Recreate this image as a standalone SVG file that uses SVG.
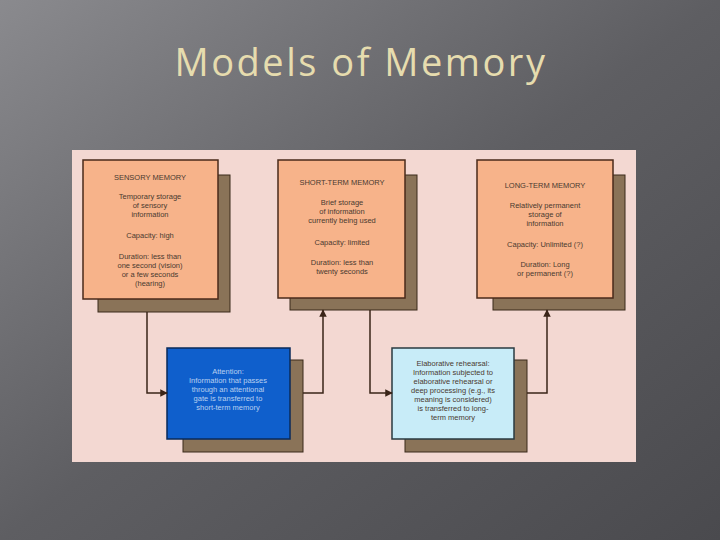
<svg xmlns="http://www.w3.org/2000/svg" width="720" height="540" viewBox="0 0 720 540">
<defs>
<linearGradient id="bg" x1="0" y1="0" x2="1" y2="1">
<stop offset="0" stop-color="#8a8a8e"/><stop offset="0.5" stop-color="#5e5e62"/><stop offset="1" stop-color="#4a4a4e"/>
</linearGradient>
<marker id="ar" viewBox="0 0 10 10" refX="9" refY="5" markerWidth="5" markerHeight="5" orient="auto"><path d="M0,0 L10,5 L0,10 z" fill="#3a2418"/></marker>
<style>
.sh{fill:#8a7358;stroke:#3a2a1a;stroke-width:1}
.or{fill:#f7b38a;stroke:#4a2a1a;stroke-width:1.5}
.t{font-family:"Liberation Sans",Arial,sans-serif;font-size:7.5px;fill:#4a3a30;text-anchor:middle}
.w{fill:#b8d0f0}
.c{fill:none;stroke:#3a2418;stroke-width:1.5;marker-end:url(#ar)}
</style>
</defs>
<rect width="720" height="540" fill="url(#bg)"/>
<text x="361" y="76" font-family="'Open Sans','DejaVu Sans',sans-serif" font-size="38" letter-spacing="2.5" fill="#e6dcae" text-anchor="middle">Models of Memory</text>
<rect x="72" y="150" width="564" height="312" fill="#f3d8d2"/>
<g id="sensory">
<rect class="sh" x="98" y="175" width="132" height="137"/>
<rect class="or" x="83" y="160" width="135" height="139"/>
<text class="t" x="150" y="180">SENSORY MEMORY</text>
<text class="t" x="150" y="199">Temporary storage</text><text class="t" x="150" y="208">of sensory</text><text class="t" x="150" y="217">information</text>
<text class="t" x="150" y="238">Capacity:  high</text>
<text class="t" x="150" y="259">Duration:  less than</text><text class="t" x="150" y="268">one second (vision)</text><text class="t" x="150" y="277">or a few seconds</text><text class="t" x="150" y="286">(hearing)</text>
</g>
<g id="stm">
<rect class="sh" x="290" y="175" width="127" height="135"/>
<rect class="or" x="278" y="160" width="127" height="138"/>
<text class="t" x="342" y="185">SHORT-TERM MEMORY</text>
<text class="t" x="342" y="205">Brief storage</text><text class="t" x="342" y="214">of information</text><text class="t" x="342" y="223">currently being used</text>
<text class="t" x="342" y="245">Capacity:  limited</text>
<text class="t" x="342" y="265">Duration:  less than</text><text class="t" x="342" y="274">twenty seconds</text>
</g>
<g id="ltm">
<rect class="sh" x="493" y="175" width="132" height="135"/>
<rect class="or" x="477" y="160" width="136" height="138"/>
<text class="t" x="545" y="188">LONG-TERM MEMORY</text>
<text class="t" x="545" y="208">Relatively permanent</text><text class="t" x="545" y="217">storage of</text><text class="t" x="545" y="226">information</text>
<text class="t" x="545" y="247">Capacity:  Unlimited (?)</text>
<text class="t" x="545" y="267">Duration:  Long</text><text class="t" x="545" y="276">or permanent (?)</text>
</g>
<g id="attention">
<rect class="sh" x="183" y="360" width="120" height="92"/>
<rect x="167" y="348" width="123" height="91" fill="#0f5fcc" stroke="#0a2a5a" stroke-width="1.5"/>
<text class="t w" x="228" y="374">Attention:</text><text class="t w" x="228" y="383">Information that passes</text><text class="t w" x="228" y="392">through an attentional</text><text class="t w" x="228" y="401">gate is transferred to</text><text class="t w" x="228" y="410">short-term memory</text>
</g>
<g id="elaborative">
<rect class="sh" x="405" y="360" width="122" height="92"/>
<rect x="392" y="348" width="122" height="91" fill="#c8ecf8" stroke="#2a3a40" stroke-width="1.5"/>
<text class="t" x="453" y="366" fill="#2a2a30">Elaborative rehearsal:</text><text class="t" x="453" y="375">Information subjected to</text><text class="t" x="453" y="384">elaborative rehearsal or</text><text class="t" x="453" y="393">deep processing (e.g., its</text><text class="t" x="453" y="402">meaning is considered)</text><text class="t" x="453" y="411">is transferred to long-</text><text class="t" x="453" y="420">term memory</text>
</g>
<g id="connectors">
<path class="c" d="M147,312 V393 H167"/>
<path class="c" d="M303,393 H323 V310"/>
<path class="c" d="M370,310 V393 H392"/>
<path class="c" d="M527,393 H547 V310"/>
</g>
</svg>
